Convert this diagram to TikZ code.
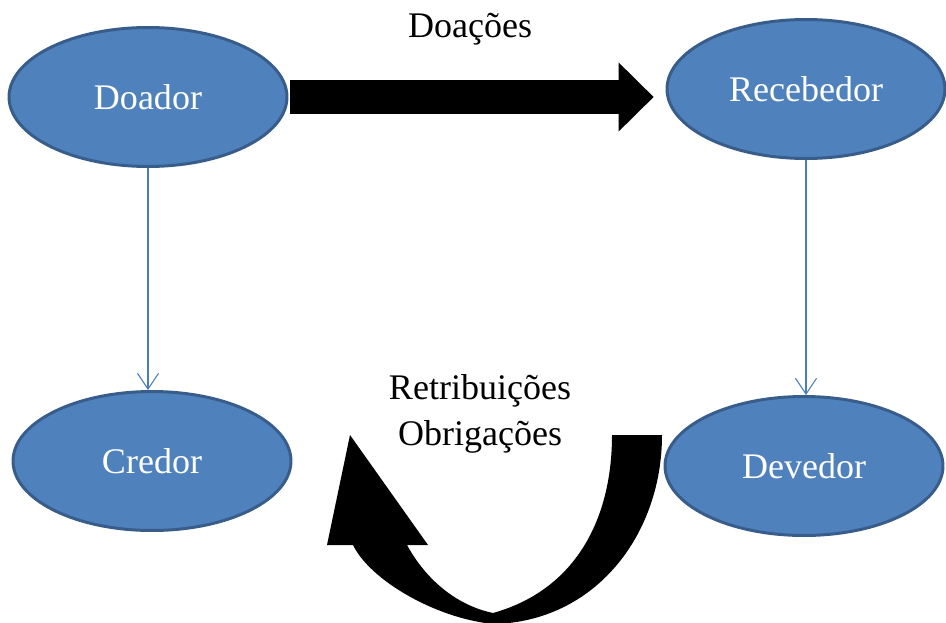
\documentclass[tikz,border=0pt]{standalone}
\usepackage{fontspec}
\setmainfont{Liberation Serif}
\usetikzlibrary{shapes.geometric,arrows.meta}
\definecolor{azulfill}{HTML}{4F81BD}
\definecolor{azulborda}{HTML}{385D8A}
\definecolor{azulseta}{HTML}{4A7EBB}
\tikzset{
  papel/.style={ellipse, draw=azulborda, line width=1.7pt, fill=azulfill,
    minimum width=5.56cm, minimum height=2.78cm, inner sep=0pt,
    text=white, font=\fontsize{20.5pt}{26.2pt}\selectfont},
  fluxo/.style={draw=azulseta, line width=0.6pt,
    -{Straight Barb[length=9pt,width=12pt]}},
  rotulo/.style={font=\fontsize{20.5pt}{26.2pt}\selectfont, align=center}
}
\begin{document}
\begin{tikzpicture}[x=0.02cm, y=-0.02cm]
    \useasboundingbox (0,0) rectangle (946,622);
    % papeis
    \node[papel] (doador) at (148,97) {Doador};
    \node[papel] (recebedor) at (806,89) {Recebedor};
    \node[papel] (credor) at (152,461) {Credor};
    \node[papel] (devedor) at (804,466) {Devedor};
    % setas finas
    \draw[fluxo] (doador.south) -- (doador.south |- credor.north);
    \draw[fluxo] (recebedor.south) -- (recebedor.south |- devedor.north);
    % seta grossa
    \draw[black, line width=18.8pt, shorten <=1pt, shorten >=6.8pt,
      -{Triangle[length=19.9pt 0 0, width=39.3pt 0 0, line width=0pt]}]
      (doador.east) -- (doador.east -| recebedor.west);
    \node[rotulo, anchor=base] (doacoes) at (470,37) {Doações};
    % seta curva
    \fill[black] (612,435) -- (662,435)
      .. controls (662,535) and (595,622) .. (493,624)
      .. controls (435,618) and (370,580) .. (353,545)
      -- (327,545) -- (350,435) -- (428,545) -- (407,545)
      .. controls (425,578) and (455,605) .. (493,613)
      .. controls (575,590) and (612,520) .. (612,435) -- cycle;
    \node[rotulo] (retribuicoes) at (480,414) {Retribuições\\Obrigações};
\end{tikzpicture}
\end{document}
